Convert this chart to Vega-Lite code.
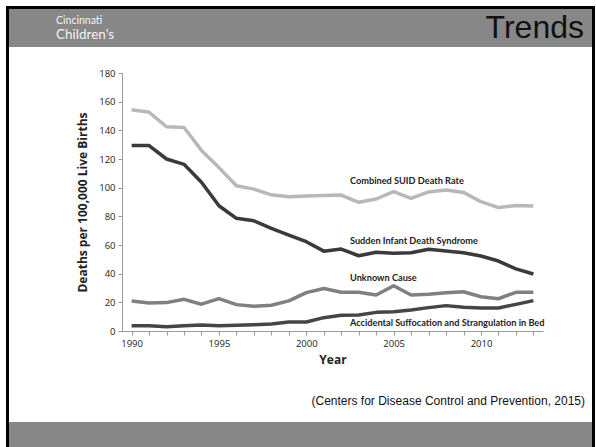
{
  "$schema": "https://vega.github.io/schema/vega-lite/v6.json",
  "width": 421,
  "height": 258,
  "autosize": {"type": "none"},
  "padding": {"left": 122, "top": 73, "right": 53, "bottom": 116},
  "background": "white",
  "config": {
    "view": {"stroke": null},
    "font": "Open Sans",
    "axis": {
      "labelOverlap": false, "labelSeparation": 0, "labelFlush": false, "grid": false,
      "domainColor": "#9a9a9a", "tickColor": "#9a9a9a", "tickSize": 4,
      "labelFontSize": 9.5, "labelColor": "#222222", "labelPadding": 3,
      "titleFontWeight": "bold", "titleColor": "#222222"
    },
    "axisX": {"titleFontSize": 12, "titlePadding": 7},
    "axisY": {"titleFontSize": 12, "titlePadding": 9}
  },
  "datasets": {
    "series": [
      {"year": 1990, "series": "Combined SUID Death Rate", "value": 154.3},
      {"year": 1991, "series": "Combined SUID Death Rate", "value": 152.6},
      {"year": 1992, "series": "Combined SUID Death Rate", "value": 142.5},
      {"year": 1993, "series": "Combined SUID Death Rate", "value": 142.0},
      {"year": 1994, "series": "Combined SUID Death Rate", "value": 126.0},
      {"year": 1995, "series": "Combined SUID Death Rate", "value": 114.0},
      {"year": 1996, "series": "Combined SUID Death Rate", "value": 101.4},
      {"year": 1997, "series": "Combined SUID Death Rate", "value": 99.0},
      {"year": 1998, "series": "Combined SUID Death Rate", "value": 95.0},
      {"year": 1999, "series": "Combined SUID Death Rate", "value": 93.7},
      {"year": 2000, "series": "Combined SUID Death Rate", "value": 94.2},
      {"year": 2001, "series": "Combined SUID Death Rate", "value": 94.6},
      {"year": 2002, "series": "Combined SUID Death Rate", "value": 94.8},
      {"year": 2003, "series": "Combined SUID Death Rate", "value": 89.8},
      {"year": 2004, "series": "Combined SUID Death Rate", "value": 92.1},
      {"year": 2005, "series": "Combined SUID Death Rate", "value": 97.2},
      {"year": 2006, "series": "Combined SUID Death Rate", "value": 92.6},
      {"year": 2007, "series": "Combined SUID Death Rate", "value": 97.0},
      {"year": 2008, "series": "Combined SUID Death Rate", "value": 98.4},
      {"year": 2009, "series": "Combined SUID Death Rate", "value": 96.7},
      {"year": 2010, "series": "Combined SUID Death Rate", "value": 90.2},
      {"year": 2011, "series": "Combined SUID Death Rate", "value": 86.1},
      {"year": 2012, "series": "Combined SUID Death Rate", "value": 87.5},
      {"year": 2013, "series": "Combined SUID Death Rate", "value": 87.2},
      {"year": 1990, "series": "Sudden Infant Death Syndrome", "value": 129.4},
      {"year": 1991, "series": "Sudden Infant Death Syndrome", "value": 129.4},
      {"year": 1992, "series": "Sudden Infant Death Syndrome", "value": 120.0},
      {"year": 1993, "series": "Sudden Infant Death Syndrome", "value": 116.3},
      {"year": 1994, "series": "Sudden Infant Death Syndrome", "value": 103.8},
      {"year": 1995, "series": "Sudden Infant Death Syndrome", "value": 87.4},
      {"year": 1996, "series": "Sudden Infant Death Syndrome", "value": 78.6},
      {"year": 1997, "series": "Sudden Infant Death Syndrome", "value": 76.9},
      {"year": 1998, "series": "Sudden Infant Death Syndrome", "value": 71.6},
      {"year": 1999, "series": "Sudden Infant Death Syndrome", "value": 66.9},
      {"year": 2000, "series": "Sudden Infant Death Syndrome", "value": 62.3},
      {"year": 2001, "series": "Sudden Infant Death Syndrome", "value": 55.7},
      {"year": 2002, "series": "Sudden Infant Death Syndrome", "value": 57.2},
      {"year": 2003, "series": "Sudden Infant Death Syndrome", "value": 52.5},
      {"year": 2004, "series": "Sudden Infant Death Syndrome", "value": 54.9},
      {"year": 2005, "series": "Sudden Infant Death Syndrome", "value": 54.2},
      {"year": 2006, "series": "Sudden Infant Death Syndrome", "value": 54.6},
      {"year": 2007, "series": "Sudden Infant Death Syndrome", "value": 57.0},
      {"year": 2008, "series": "Sudden Infant Death Syndrome", "value": 55.8},
      {"year": 2009, "series": "Sudden Infant Death Syndrome", "value": 54.6},
      {"year": 2010, "series": "Sudden Infant Death Syndrome", "value": 52.3},
      {"year": 2011, "series": "Sudden Infant Death Syndrome", "value": 48.8},
      {"year": 2012, "series": "Sudden Infant Death Syndrome", "value": 43.3},
      {"year": 2013, "series": "Sudden Infant Death Syndrome", "value": 39.8},
      {"year": 1990, "series": "Unknown Cause", "value": 21.0},
      {"year": 1991, "series": "Unknown Cause", "value": 19.6},
      {"year": 1992, "series": "Unknown Cause", "value": 19.8},
      {"year": 1993, "series": "Unknown Cause", "value": 22.1},
      {"year": 1994, "series": "Unknown Cause", "value": 18.7},
      {"year": 1995, "series": "Unknown Cause", "value": 22.6},
      {"year": 1996, "series": "Unknown Cause", "value": 18.4},
      {"year": 1997, "series": "Unknown Cause", "value": 17.3},
      {"year": 1998, "series": "Unknown Cause", "value": 18.0},
      {"year": 1999, "series": "Unknown Cause", "value": 21.0},
      {"year": 2000, "series": "Unknown Cause", "value": 26.8},
      {"year": 2001, "series": "Unknown Cause", "value": 29.6},
      {"year": 2002, "series": "Unknown Cause", "value": 27.0},
      {"year": 2003, "series": "Unknown Cause", "value": 27.0},
      {"year": 2004, "series": "Unknown Cause", "value": 25.1},
      {"year": 2005, "series": "Unknown Cause", "value": 31.6},
      {"year": 2006, "series": "Unknown Cause", "value": 25.1},
      {"year": 2007, "series": "Unknown Cause", "value": 25.6},
      {"year": 2008, "series": "Unknown Cause", "value": 26.7},
      {"year": 2009, "series": "Unknown Cause", "value": 27.4},
      {"year": 2010, "series": "Unknown Cause", "value": 23.9},
      {"year": 2011, "series": "Unknown Cause", "value": 22.5},
      {"year": 2012, "series": "Unknown Cause", "value": 27.0},
      {"year": 2013, "series": "Unknown Cause", "value": 27.0},
      {"year": 1990, "series": "Accidental Suffocation and Strangulation in Bed", "value": 3.7},
      {"year": 1991, "series": "Accidental Suffocation and Strangulation in Bed", "value": 3.7},
      {"year": 1992, "series": "Accidental Suffocation and Strangulation in Bed", "value": 3.0},
      {"year": 1993, "series": "Accidental Suffocation and Strangulation in Bed", "value": 3.7},
      {"year": 1994, "series": "Accidental Suffocation and Strangulation in Bed", "value": 4.2},
      {"year": 1995, "series": "Accidental Suffocation and Strangulation in Bed", "value": 3.7},
      {"year": 1996, "series": "Accidental Suffocation and Strangulation in Bed", "value": 4.0},
      {"year": 1997, "series": "Accidental Suffocation and Strangulation in Bed", "value": 4.4},
      {"year": 1998, "series": "Accidental Suffocation and Strangulation in Bed", "value": 4.9},
      {"year": 1999, "series": "Accidental Suffocation and Strangulation in Bed", "value": 6.3},
      {"year": 2000, "series": "Accidental Suffocation and Strangulation in Bed", "value": 6.3},
      {"year": 2001, "series": "Accidental Suffocation and Strangulation in Bed", "value": 9.3},
      {"year": 2002, "series": "Accidental Suffocation and Strangulation in Bed", "value": 11.0},
      {"year": 2003, "series": "Accidental Suffocation and Strangulation in Bed", "value": 11.2},
      {"year": 2004, "series": "Accidental Suffocation and Strangulation in Bed", "value": 13.0},
      {"year": 2005, "series": "Accidental Suffocation and Strangulation in Bed", "value": 13.5},
      {"year": 2006, "series": "Accidental Suffocation and Strangulation in Bed", "value": 14.7},
      {"year": 2007, "series": "Accidental Suffocation and Strangulation in Bed", "value": 16.3},
      {"year": 2008, "series": "Accidental Suffocation and Strangulation in Bed", "value": 17.7},
      {"year": 2009, "series": "Accidental Suffocation and Strangulation in Bed", "value": 16.5},
      {"year": 2010, "series": "Accidental Suffocation and Strangulation in Bed", "value": 16.1},
      {"year": 2011, "series": "Accidental Suffocation and Strangulation in Bed", "value": 16.1},
      {"year": 2012, "series": "Accidental Suffocation and Strangulation in Bed", "value": 18.6},
      {"year": 2013, "series": "Accidental Suffocation and Strangulation in Bed", "value": 21.2}
    ],
    "labels": [
      {"year": 2002.5, "value": 104.7, "label": "Combined SUID Death Rate"},
      {"year": 2002.5, "value": 62.8, "label": "Sudden Infant Death Syndrome"},
      {"year": 2002.5, "value": 37.2, "label": "Unknown Cause"},
      {"year": 2002.5, "value": 5.4, "label": "Accidental Suffocation and Strangulation in Bed"}
    ],
    "header": [{"t": "Trends"}],
    "logo1": [{"t": "Cincinnati"}],
    "logo2": [{"t": "Children's"}],
    "cite": [{"t": "(Centers for Disease Control and Prevention, 2015)"}]
  },
  "layer": [
    {
      "data": {"name": "header"},
      "mark": {"type": "rect", "fill": "#878787"},
      "encoding": {"x": {"value": -113}, "x2": {"value": 470}, "y": {"value": -64}, "y2": {"value": -26}}
    },
    {
      "data": {"name": "header"},
      "mark": {"type": "rect", "fill": "#878787"},
      "encoding": {"x": {"value": -113}, "x2": {"value": 470}, "y": {"value": 349}, "y2": {"value": 380}}
    },
    {
      "data": {"name": "header"},
      "mark": {"type": "rect", "fill": null, "fillOpacity": 0, "stroke": "#000000", "strokeWidth": 3},
      "encoding": {"x": {"value": -114.5}, "x2": {"value": 471.5}, "y": {"value": -65.5}, "y2": {"value": 390}}
    },
    {
      "data": {"name": "header"},
      "mark": {"type": "text", "font": "Liberation Sans", "fontSize": 32, "color": "#111111", "align": "right", "baseline": "alphabetic"},
      "encoding": {"text": {"field": "t"}, "x": {"value": 462}, "y": {"value": -35}}
    },
    {
      "data": {"name": "logo1"},
      "mark": {"type": "text", "font": "Lato", "fontSize": 10.5, "color": "#f2f2f2", "align": "left", "baseline": "alphabetic"},
      "encoding": {"text": {"field": "t"}, "x": {"value": -66}, "y": {"value": -49.5}}
    },
    {
      "data": {"name": "logo2"},
      "mark": {"type": "text", "font": "Lato", "fontSize": 13.5, "color": "#f2f2f2", "align": "left", "baseline": "alphabetic"},
      "encoding": {"text": {"field": "t"}, "x": {"value": -66}, "y": {"value": -34}}
    },
    {
      "data": {"name": "cite"},
      "mark": {"type": "text", "font": "Liberation Sans", "fontSize": 12, "color": "#111111", "align": "right", "baseline": "middle"},
      "encoding": {"text": {"field": "t"}, "x": {"value": 463}, "y": {"value": 328}}
    },
    {
      "data": {"name": "series"},
      "mark": {"type": "line", "strokeWidth": 3.5, "strokeJoin": "round"},
      "encoding": {
        "x": {
          "field": "year", "type": "quantitative",
          "scale": {"domain": [1989.45, 2013.55], "nice": false, "zero": false},
          "axis": {
            "title": "Year",
            "values": [1990, 1991, 1992, 1993, 1994, 1995, 1996, 1997, 1998, 1999, 2000, 2001, 2002, 2003, 2004, 2005, 2006, 2007, 2008, 2009, 2010, 2011, 2012, 2013],
            "labelExpr": "datum.value % 5 === 0 ? datum.label : ''",
            "format": "d",
            "labelOverlap": false
          }
        },
        "y": {
          "field": "value", "type": "quantitative",
          "scale": {"domain": [0, 180], "nice": false},
          "axis": {
            "title": "Deaths per 100,000 Live Births",
            "values": [0, 20, 40, 60, 80, 100, 120, 140, 160, 180],
            "labelOverlap": false
          }
        },
        "color": {
          "field": "series", "type": "nominal",
          "scale": {
            "domain": ["Combined SUID Death Rate", "Sudden Infant Death Syndrome", "Unknown Cause", "Accidental Suffocation and Strangulation in Bed"],
            "range": ["#b8b8b8", "#3a3a3a", "#808080", "#454545"]
          },
          "legend": null
        }
      }
    },
    {
      "data": {"name": "labels"},
      "mark": {"type": "text", "font": "Lato", "fontWeight": "bold", "fontSize": 9.2, "color": "#222222", "align": "left", "baseline": "middle"},
      "encoding": {
        "text": {"field": "label"},
        "x": {
          "field": "year", "type": "quantitative",
          "axis": {
            "title": "Year",
            "values": [1990, 1991, 1992, 1993, 1994, 1995, 1996, 1997, 1998, 1999, 2000, 2001, 2002, 2003, 2004, 2005, 2006, 2007, 2008, 2009, 2010, 2011, 2012, 2013],
            "labelExpr": "datum.value % 5 === 0 ? datum.label : ''",
            "format": "d",
            "labelOverlap": false
          }
        },
        "y": {
          "field": "value", "type": "quantitative",
          "axis": {
            "title": "Deaths per 100,000 Live Births",
            "values": [0, 20, 40, 60, 80, 100, 120, 140, 160, 180],
            "labelOverlap": false
          }
        }
      }
    }
  ]
}
